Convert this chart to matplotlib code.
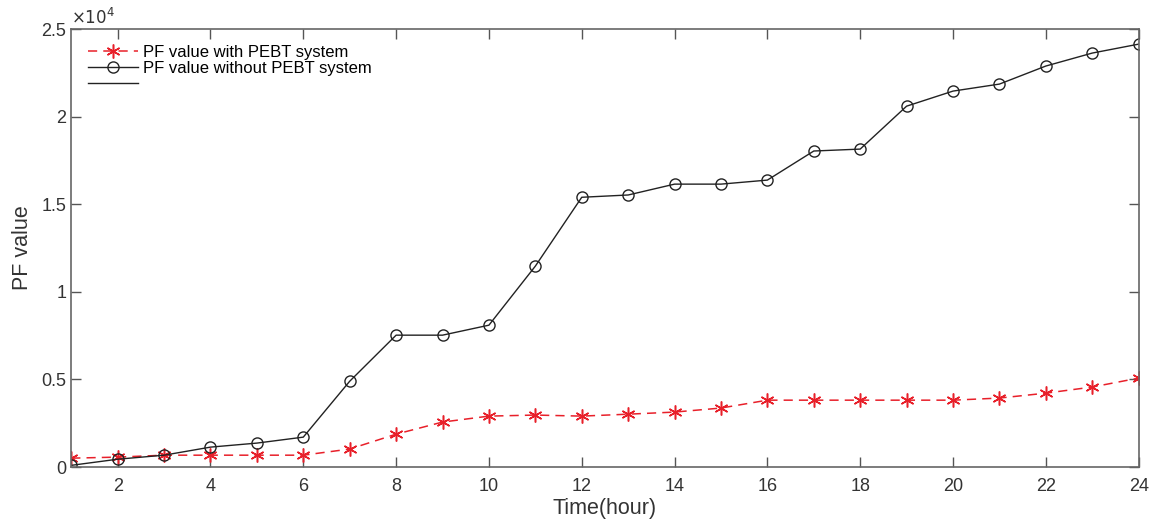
import matplotlib

matplotlib.use("Agg")
import matplotlib.pyplot as plt
from matplotlib.ticker import FuncFormatter

plt.rcParams["font.family"] = ["Liberation Sans", "DejaVu Sans"]

hours = list(range(1, 25))
pf_with = [510, 570, 680, 680, 680, 680, 1030, 1880, 2570, 2910, 2970, 2910,
           3020, 3140, 3370, 3820, 3820, 3820, 3820, 3820, 3940, 4220, 4570, 5080]
pf_without = [100, 450, 680, 1140, 1370, 1710, 4900, 7530, 7530, 8100, 11470, 15400,
              15530, 16150, 16150, 16380, 18040, 18150, 20600, 21460, 21860, 22890, 23630, 24140]
labels = ["PF value with PEBT system", "PF value without PEBT system", " "]

fig = plt.figure(figsize=(11.49, 5.19), dpi=100)
ax = fig.add_axes([0.062, 0.100, 0.929, 0.844])

# MATLAB-style asterisk marker
ax.plot(hours, pf_with, color="#e8202a", ls=(0, (6, 4)), lw=1.1, marker=(6, 2, 0),
        ms=10, mec="#e8202a", mew=1.1, label=labels[0])
ax.plot(hours, pf_without, color="#222222", lw=1.0, marker="o", ms=8,
        mfc="none", mec="#222222", label=labels[1])
ax.plot([], [], color="#222222", lw=1.0, label=labels[2])

ax.set_xlim(1, 24)
ax.set_ylim(0, 25000)
ax.set_xticks(range(2, 25, 2))
ax.set_yticks([0, 5000, 10000, 15000, 20000, 25000])
ax.yaxis.set_major_formatter(FuncFormatter(lambda v, p: f"{v / 1e4:g}"))
ax.text(0.0, 1.005, r"$\times10^4$", transform=ax.transAxes, fontsize=12,
        color="#333333", ha="left", va="bottom")

ax.tick_params(direction="in", top=True, right=True, length=7, width=1,
               colors="#555555", labelcolor="#333333", labelsize=13)
ax.tick_params(axis="x", pad=8)
for s in ax.spines.values():
    s.set_color("#666666")
    s.set_linewidth(1.2)

ax.set_xlabel("Time(hour)", fontsize=15.5, color="#333333", labelpad=2)
ax.set_ylabel("PF value", fontsize=15.5, color="#333333")
ax.yaxis.set_label_coords(-0.036, 0.5)

ax.legend(loc="upper left", frameon=False, fontsize=12, handlelength=3,
          borderaxespad=0.3, labelspacing=0.05, handletextpad=0.3,
          bbox_to_anchor=(0.005, 0.99))

fig.savefig("out.png", dpi=100)
